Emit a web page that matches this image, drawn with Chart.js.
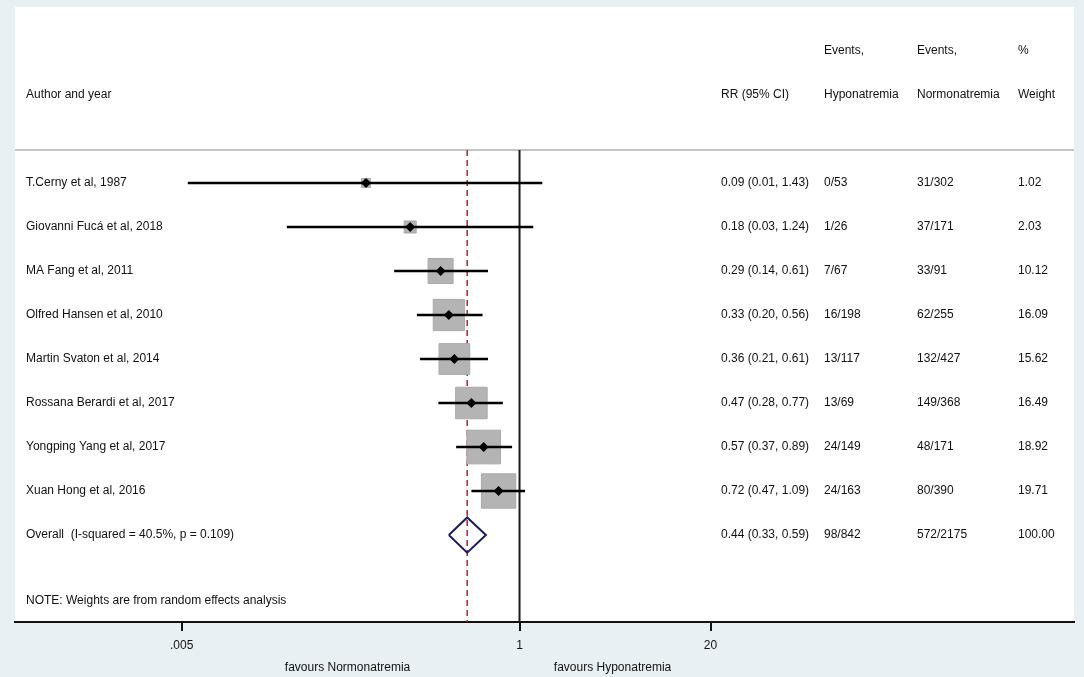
<!DOCTYPE html>
<html>
<head>
<meta charset="utf-8">
<title>Forest plot</title>
<script src="https://cdn.jsdelivr.net/npm/chart.js@4.4.1/dist/chart.umd.min.js"></script>
<style>
  html, body { margin: 0; padding: 0; background: #e8f0f3; }
  #wrap { width: 1084px; height: 677px; position: relative; }
</style>
</head>
<body>
<div id="wrap"><canvas id="forest"></canvas></div>
<script>
// study rows, top to bottom
const studies = [
  "T.Cerny et al, 1987",
  "Giovanni Fucá et al, 2018",
  "MA Fang et al, 2011",
  "Olfred Hansen et al, 2010",
  "Martin Svaton et al, 2014",
  "Rossana Berardi et al, 2017",
  "Yongping Yang et al, 2017",
  "Xuan Hong et al, 2016"
]
const rr = [0.09, 0.18, 0.29, 0.33, 0.36, 0.47, 0.57, 0.72]
const ciLow = [0.0055, 0.026, 0.14, 0.20, 0.21, 0.28, 0.37, 0.47]
const ciHigh = [1.43, 1.24, 0.61, 0.56, 0.61, 0.77, 0.89, 1.09]
const ciText = [
  "0.09 (0.01, 1.43)", "0.18 (0.03, 1.24)", "0.29 (0.14, 0.61)", "0.33 (0.20, 0.56)",
  "0.36 (0.21, 0.61)", "0.47 (0.28, 0.77)", "0.57 (0.37, 0.89)", "0.72 (0.47, 1.09)"
]
const eventsHypo = ["0/53", "1/26", "7/67", "16/198", "13/117", "13/69", "24/149", "24/163"]
const eventsNormo = ["31/302", "37/171", "33/91", "62/255", "132/427", "149/368", "48/171", "80/390"]
const weights = [1.02, 2.03, 10.12, 16.09, 15.62, 16.49, 18.92, 19.71]

const overallLabel = "Overall  (I-squared = 40.5%, p = 0.109)"
const overallRR = 0.44
const overallLow = 0.33
const overallHigh = 0.59
const overallText = ["0.44 (0.33, 0.59)", "98/842", "572/2175", "100.00"]

const axisTicks = [0.005, 1, 20]
const tickLabels = [".005", "1", "20"]
const favours = ["favours Normonatremia", "favours Hyponatremia"]
const note = "NOTE: Weights are from random effects analysis"

// layout
const X_MIN = 0.000366
const X_MAX = 5980
const Y_MIN = -4
const Y_MAX = 9.977
const HEADER_ROW = -0.75
const overallRow = studies.length
const col = { study: 26, rr: 721, hypo: 824, normo: 917, weight: 1018 }
const FONT = "12px 'Liberation Sans', Arial, sans-serif"
const INK = "#111111"

const boxRadius = weights.map(w => (7.4 * Math.sqrt(w) + 1.5) / Math.SQRT2)

const ciDatasets = studies.map((s, i) => ({
  type: "line",
  data: [{ x: ciLow[i], y: i }, { x: ciHigh[i], y: i }],
  borderColor: "#000000",
  borderWidth: 2.5,
  pointRadius: 0,
  order: 3
}))

const whiteArea = {
  id: "whiteArea",
  beforeDraw(chart) {
    const { ctx, chartArea: a } = chart
    ctx.save()
    ctx.fillStyle = "#ffffff"
    ctx.fillRect(a.left, a.top, a.right - a.left, a.bottom - a.top)
    ctx.restore()
  }
}

const tableText = {
  id: "tableText",
  afterDraw(chart) {
    const { ctx } = chart
    const y = chart.scales.y
    const x = chart.scales.x
    ctx.save()
    ctx.font = FONT
    ctx.fillStyle = INK
    ctx.textBaseline = "middle"
    ctx.textAlign = "left"

    const put = (text, px, row) => ctx.fillText(text, px, y.getPixelForValue(row))

    put("Events,", col.hypo, -3)
    put("Events,", col.normo, -3)
    put("%", col.weight, -3)
    put("Author and year", col.study, -2)
    put("RR (95% CI)", col.rr, -2)
    put("Hyponatremia", col.hypo, -2)
    put("Normonatremia", col.normo, -2)
    put("Weight", col.weight, -2)

    studies.forEach((s, i) => {
      put(s, col.study, i)
      put(ciText[i], col.rr, i)
      put(eventsHypo[i], col.hypo, i)
      put(eventsNormo[i], col.normo, i)
      put(weights[i].toFixed(2), col.weight, i)
    })

    put(overallLabel, col.study, overallRow)
    put(overallText[0], col.rr, overallRow)
    put(overallText[1], col.hypo, overallRow)
    put(overallText[2], col.normo, overallRow)
    put(overallText[3], col.weight, overallRow)

    put(note, col.study, overallRow + 1.5)

    // favours labels under the axis
    const one = x.getPixelForValue(1)
    ctx.textAlign = "center"
    ctx.fillText(favours[0], one - 172, 668)
    ctx.fillText(favours[1], one + 93, 668)
    ctx.restore()
  }
}

new Chart(document.getElementById("forest"), {
  type: "scatter",
  data: {
    datasets: [
      {
        type: "line",
        data: [
          { x: overallLow, y: overallRow },
          { x: overallRR, y: overallRow - 0.4 },
          { x: overallHigh, y: overallRow },
          { x: overallRR, y: overallRow + 0.4 },
          { x: overallLow, y: overallRow }
        ],
        borderColor: "#1c1c64",
        borderWidth: 2,
        pointRadius: 0,
        tension: 0,
        order: 1
      },
      {
        data: rr.map((v, i) => ({ x: v, y: i })),
        pointStyle: "rectRot",
        pointRadius: 5,
        backgroundColor: "#000000",
        borderColor: "#000000",
        borderWidth: 0,
        order: 2
      },
      ...ciDatasets,
      {
        data: rr.map((v, i) => ({ x: v, y: i })),
        pointStyle: "rect",
        pointRadius: boxRadius,
        backgroundColor: "#b4b4b4",
        borderColor: "#a9a9a9",
        borderWidth: 1,
        order: 4
      },
      {
        type: "line",
        data: [{ x: 1, y: HEADER_ROW }, { x: 1, y: Y_MAX }],
        borderColor: "#1a1a1a",
        borderWidth: 2,
        pointRadius: 0,
        order: 5
      },
      {
        type: "line",
        data: [{ x: overallRR, y: HEADER_ROW }, { x: overallRR, y: Y_MAX }],
        borderColor: "#b0202c",
        borderWidth: 1.5,
        borderDash: [6, 4],
        pointRadius: 0,
        order: 5
      },
      {
        type: "line",
        data: [{ x: X_MIN, y: HEADER_ROW }, { x: X_MAX, y: HEADER_ROW }],
        borderColor: "#c4c4c4",
        borderWidth: 2,
        pointRadius: 0,
        order: 6
      }
    ]
  },
  options: {
    responsive: true,
    maintainAspectRatio: false,
    animation: false,
    events: [],
    layout: {
      autoPadding: false,
      padding: { left: 15, right: 10, top: 7, bottom: 0 }
    },
    plugins: {
      legend: { display: false },
      tooltip: { enabled: false }
    },
    scales: {
      x: {
        type: "logarithmic",
        position: "bottom",
        min: X_MIN,
        max: X_MAX,
        afterBuildTicks: (scale) => {
          scale.ticks = axisTicks.map(v => ({ value: v }))
        },
        afterFit: (scale) => {
          scale.height = 55
        },
        ticks: {
          autoSkip: false,
          maxRotation: 0,
          padding: 7,
          color: INK,
          font: { family: "'Liberation Sans', Arial, sans-serif", size: 12 },
          callback: (value, index) => tickLabels[index]
        },
        grid: {
          display: true,
          drawOnChartArea: false,
          drawTicks: true,
          tickLength: 9,
          color: "#111111",
          lineWidth: 2
        },
        border: {
          display: true,
          color: "#111111",
          width: 2
        }
      },
      y: {
        type: "linear",
        display: false,
        reverse: true,
        min: Y_MIN,
        max: Y_MAX
      }
    }
  },
  plugins: [whiteArea, tableText]
})
</script>
</body>
</html>
